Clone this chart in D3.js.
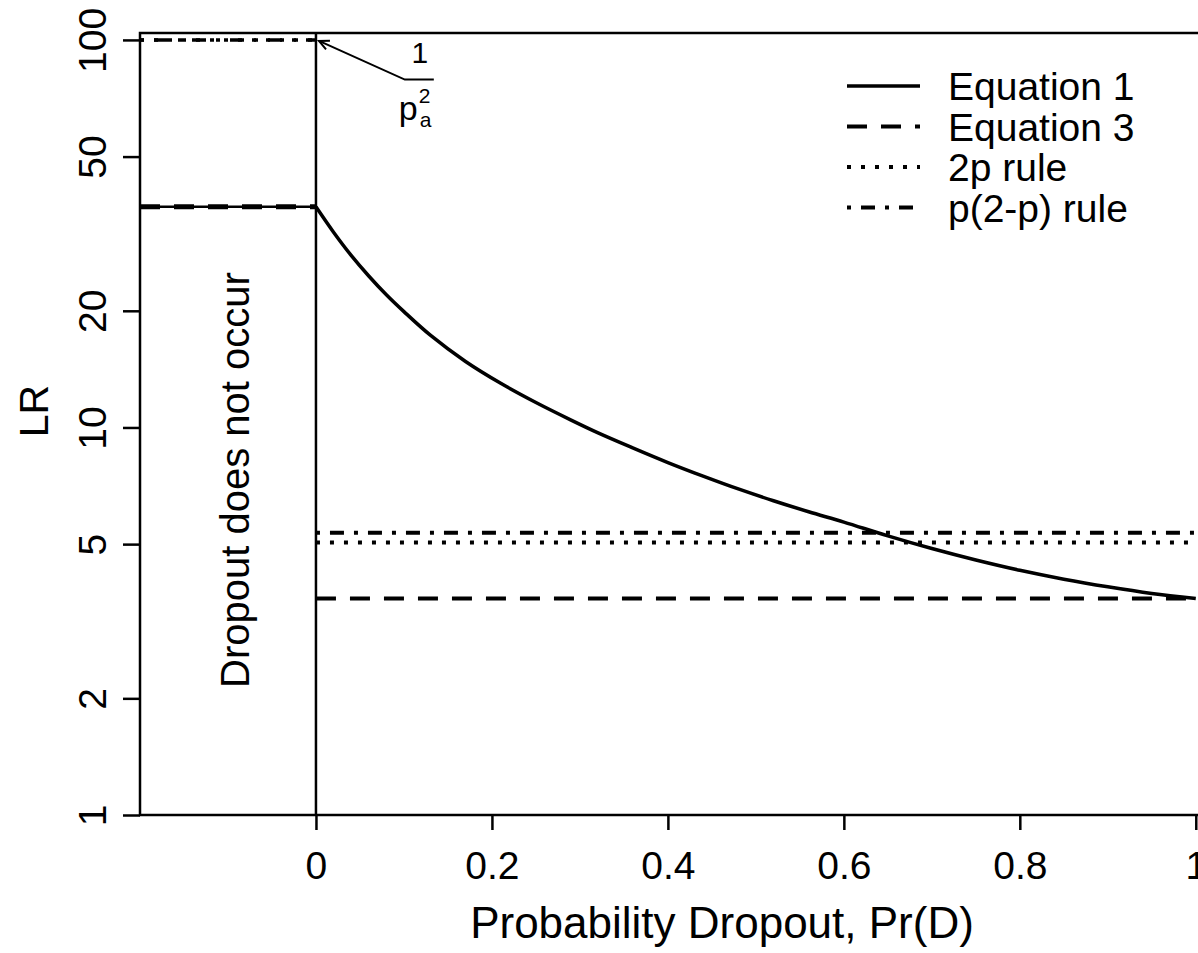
<!DOCTYPE html>
<html>
<head>
<meta charset="utf-8">
<script src="https://cdn.jsdelivr.net/npm/d3@7"></script>
<style>
  body { margin: 0; background: #fff; }
  svg { display: block; font-family: "Liberation Sans", Arial, sans-serif; }
  .frame { fill: none; stroke: #000; stroke-width: 2.5; }
  .axis line { stroke: #000; stroke-width: 2.5; }
  .axis text { fill: #000; font-size: 39px; }
  .series { fill: none; stroke: #000; }
</style>
</head>
<body>
<svg id="chart" width="1198" height="953"></svg>
<script>
// Probability of dropout and the Equation 1 curve
const probDropout = [0, 0.02, 0.04, 0.06, 0.08, 0.1, 0.13, 0.17, 0.21, 0.25, 0.29, 0.32,
  0.36, 0.4, 0.44, 0.48, 0.52, 0.56, 0.6, 0.65, 0.7, 0.75, 0.8, 0.85, 0.9, 0.95, 1];
const eq1LR = [37.1, 31.9, 27.8, 24.6, 22.0, 19.9, 17.3, 14.8, 13.0, 11.6, 10.45, 9.7,
  8.86, 8.12, 7.49, 6.94, 6.47, 6.06, 5.7, 5.25, 4.87, 4.55, 4.28, 4.06, 3.88, 3.73, 3.62];

// flat values
const noDropoutRange = [-0.2, 0];
const dropoutRange = [0, 1];
const noDropoutLR = 37.1;      // Equation 1 and 3 when dropout does not occur
const inversePa2 = 100;        // 1 / pa^2
const eq3LR = 3.62;
const rule2pLR = 5.05;
const rulePTwoMinusPLR = 5.35;

const xTicks = [0, 0.2, 0.4, 0.6, 0.8, 1];
const yTicks = [1, 2, 5, 10, 20, 50, 100];
const legendLabels = ["Equation 1", "Equation 3", "2p rule", "p(2-p) rule"];
const legendDash = [null, "20,14", "4,10", "4,10,14,10"];

const svg = d3.select("#chart");

const x = d3.scaleLinear().domain([-0.2, 1.123]).range([140, 1304]);
const y = d3.scaleLog().domain([1, 104.2]).range([815, 33]);

// x axis
const xAxis = svg.append("g")
  .attr("class", "axis")
  .attr("transform", "translate(0," + y(1) + ")")
  .call(d3.axisBottom(x).tickValues(xTicks).tickSize(15).tickPadding(0)
    .tickFormat(d => String(d)));
xAxis.select(".domain").remove();
xAxis.selectAll("text").attr("dy", null).attr("y", 64).attr("text-anchor", "middle");

// y axis, labels turned like R does
const yAxis = svg.append("g")
  .attr("class", "axis")
  .attr("transform", "translate(" + x(-0.2) + ",0)")
  .call(d3.axisLeft(y).tickValues(yTicks).tickSize(17).tickFormat(d => String(d)));
yAxis.select(".domain").remove();
yAxis.selectAll("text")
  .attr("x", null).attr("dy", null)
  .attr("text-anchor", "middle")
  .attr("transform", "translate(-34,0) rotate(-90)");

// plot frame and the v = 0 line
svg.append("rect")
  .attr("class", "frame")
  .attr("x", x(-0.2)).attr("y", y(104.2))
  .attr("width", x(1.123) - x(-0.2)).attr("height", y(1) - y(104.2));

svg.append("line")
  .attr("x1", x(0)).attr("x2", x(0))
  .attr("y1", y(1)).attr("y2", y(104.2))
  .attr("stroke", "#000").attr("stroke-width", 2.5);

const flat = (range, v) => range.map(p => [p, v]);
const line = d3.line().x(d => x(d[0])).y(d => y(d[1]));

function drawSeries(points, dash, width, curve) {
  svg.append("path")
    .attr("class", "series")
    .attr("stroke-width", width)
    .attr("stroke-dasharray", dash)
    .attr("d", line.curve(curve || d3.curveLinear)(points));
}

// no dropout region
drawSeries(flat(noDropoutRange, noDropoutLR), null, 2.5);
drawSeries(flat(noDropoutRange, noDropoutLR), "20,14", 5);
drawSeries(flat(noDropoutRange, inversePa2), "4,10", 3.5);
drawSeries(flat(noDropoutRange, inversePa2), "4,10,14,10", 3.5);

// dropout region
drawSeries(flat(dropoutRange, eq3LR), "20,14", 4);
drawSeries(flat(dropoutRange, rule2pLR), "4,10", 4);
drawSeries(flat(dropoutRange, rulePTwoMinusPLR), "4,10,14,10", 4);
drawSeries(probDropout.map((p, i) => [p, eq1LR[i]]), null, 3.5, d3.curveCatmullRom);

// 1 / pa^2 annotation with arrow
const tipX = x(0) + 3, tipY = y(inversePa2) + 1;
const tailX = x(0.101), tailY = y(79);
svg.append("path")
  .attr("fill", "none").attr("stroke", "#000").attr("stroke-width", 2)
  .attr("d", "M" + (tailX + 29) + "," + tailY + "L" + tailX + "," + tailY + "L" + tipX + "," + tipY);
const ang = Math.atan2(tailY - tipY, tailX - tipX);
const headLen = 11;
svg.append("path")
  .attr("fill", "none").attr("stroke", "#000").attr("stroke-width", 2)
  .attr("d", "M" + (tipX + headLen * Math.cos(ang - 0.45)) + "," + (tipY + headLen * Math.sin(ang - 0.45)) +
    "L" + tipX + "," + tipY +
    "L" + (tipX + headLen * Math.cos(ang + 0.45)) + "," + (tipY + headLen * Math.sin(ang + 0.45)));

svg.append("text").attr("x", tailX + 15).attr("y", tailY - 17)
  .attr("text-anchor", "middle").attr("font-size", 30).text("1");
svg.append("text").attr("x", tailX - 6).attr("y", tailY + 40)
  .attr("font-size", 34).text("p");
svg.append("text").attr("x", tailX + 14).attr("y", tailY + 23)
  .attr("font-size", 21).text("2");
svg.append("text").attr("x", tailX + 15).attr("y", tailY + 47)
  .attr("font-size", 21).text("a");

// region label
svg.append("text")
  .attr("transform", "translate(" + ((x(-0.2) + x(0)) / 2 + 21) + "," + 480 + ") rotate(-90)")
  .attr("text-anchor", "middle").attr("font-size", 40)
  .text("Dropout does not occur");

// axis titles
svg.append("text")
  .attr("x", (x(-0.2) + x(1.123)) / 2).attr("y", 938)
  .attr("text-anchor", "middle").attr("font-size", 44)
  .text("Probability Dropout, Pr(D)");
svg.append("text")
  .attr("transform", "translate(48,411) rotate(-90)")
  .attr("text-anchor", "middle").attr("font-size", 41)
  .text("LR");

// legend
const legend = svg.append("g").attr("transform", "translate(847,86)");
legendLabels.forEach((label, i) => {
  const row = legend.append("g").attr("transform", "translate(0," + i * 40.5 + ")");
  row.append("line")
    .attr("x1", 0).attr("x2", 73).attr("y1", 0).attr("y2", 0)
    .attr("stroke", "#000").attr("stroke-width", i === 0 ? 3.5 : 4)
    .attr("stroke-dasharray", legendDash[i]);
  row.append("text")
    .attr("x", 101).attr("y", 14)
    .attr("font-size", 39)
    .text(label);
});
</script>
</body>
</html>
